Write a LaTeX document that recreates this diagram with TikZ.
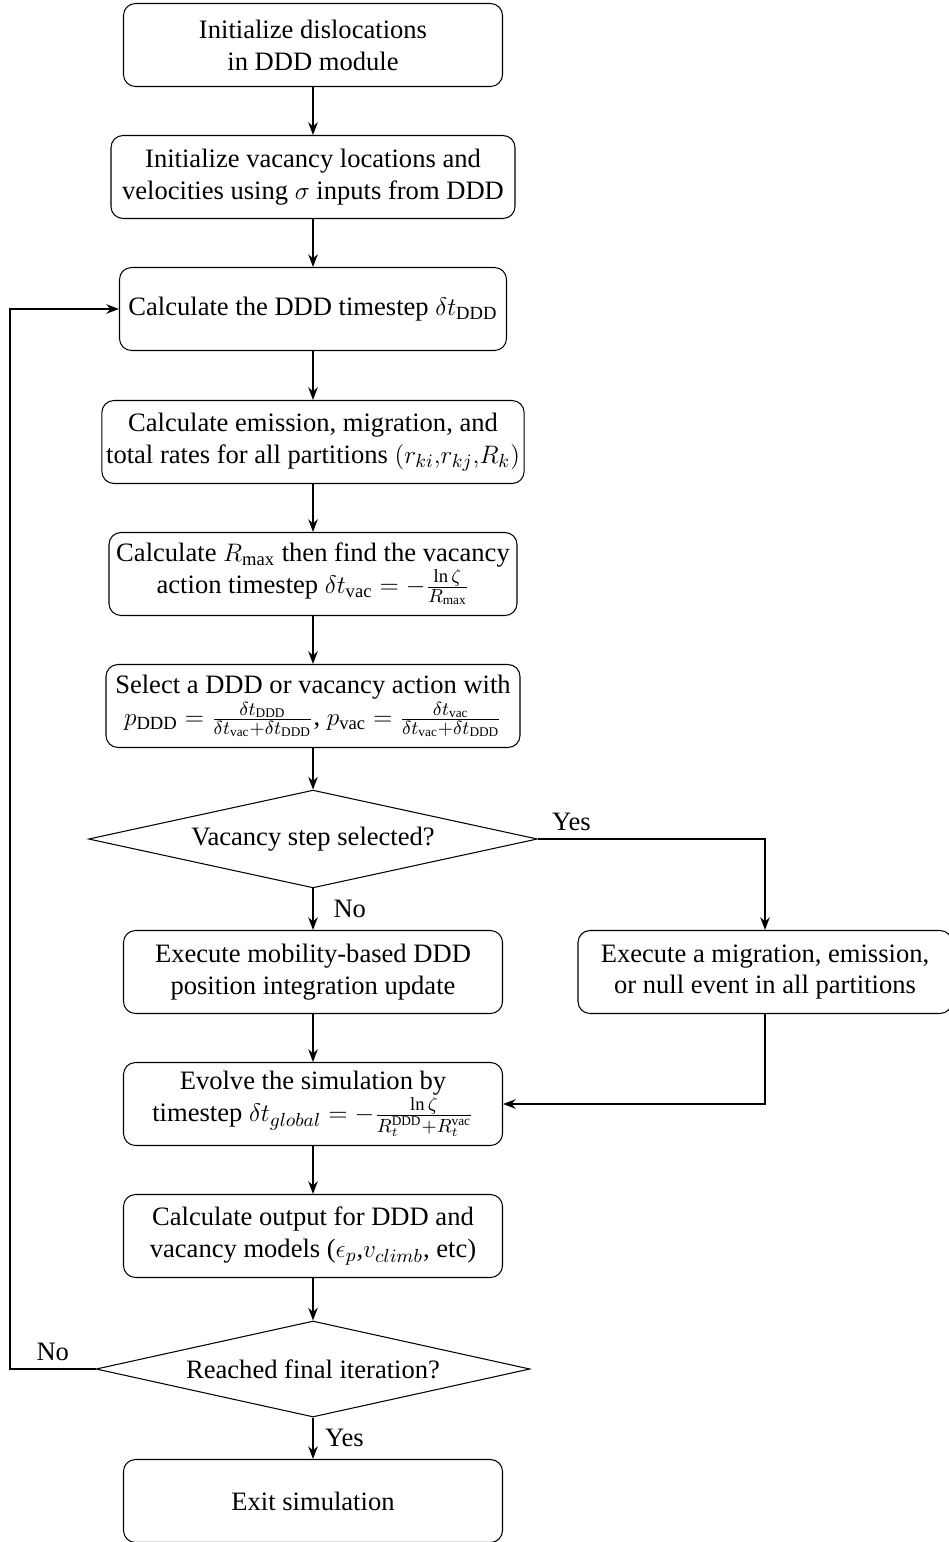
\documentclass[tikz,border=0pt]{standalone}
\usepackage{amsmath}
\usepackage{fontspec}
\setmainfont{Liberation Serif}
\usetikzlibrary{shapes.geometric, arrows.meta}

\tikzset{
    stepbox/.style={draw, rounded corners=0.2cm, line width=0.5pt, align=center,
        minimum height=1.383cm, inner xsep=2pt, font=\fontsize{12.6}{15.1}\selectfont},
    question/.style={draw, diamond, line width=0.5pt, aspect=4.6, inner sep=0pt,
        minimum width=7.48cm, minimum height=1.63cm, font=\fontsize{12.6}{15.1}\selectfont},
    flow/.style={-{Stealth[length=6pt, width=4.5pt]}, line width=0.8pt},
    lbl/.style={font=\fontsize{12.6}{15.1}\selectfont}
}

\begin{document}
\begin{tikzpicture}[x=1cm/60, y=-1cm/60]
    \useasboundingbox (0, 0) rectangle (948, 1542);

    % Setup
    \node[stepbox, minimum width=6.317cm] (init) at (313, 45) {Initialize dislocations\\in DDD module};
    \node[stepbox, minimum width=6.733cm] (vacinit) at (313, 177) {Initialize vacancy locations and\\velocities using $\sigma$ inputs from DDD};

    % Main loop
    \node[stepbox, minimum width=6.45cm] (ddtstep) at (313, 309) {Calculate the DDD timestep $\delta t_{\mathrm{DDD}}$};
    \node[stepbox, minimum width=6.967cm] (rates) at (313, 442) {Calculate emission, migration, and\\total rates for all partitions $(r_{ki}{,}r_{kj}{,}R_k)$};
    \node[stepbox, minimum width=6.8cm] (rmax) at (313, 574) {Calculate $R_{\max}$ then find the vacancy\\action timestep $\delta t_{\mathrm{vac}} = -\frac{\ln\zeta}{R_{\max}}$};
    \node[stepbox, minimum width=6.9cm] (select) at (313, 706) {Select a DDD or vacancy action with\\$p_{\mathrm{DDD}} = \frac{\delta t_{\mathrm{DDD}}}{\delta t_{\mathrm{vac}}+\delta t_{\mathrm{DDD}}}$, $p_{\mathrm{vac}} = \frac{\delta t_{\mathrm{vac}}}{\delta t_{\mathrm{vac}}+\delta t_{\mathrm{DDD}}}$};
    \node[question] (vacq) at (313, 839) {Vacancy step selected?};

    % Branches
    \node[stepbox, minimum width=6.317cm] (ddpos) at (313, 972) {Execute mobility-based DDD\\position integration update};
    \node[stepbox, minimum width=6.233cm] (vacevent) at (765, 972) {Execute a migration, emission,\\or null event in all partitions};

    % Update and output
    \node[stepbox, minimum width=6.317cm] (evolve) at (313, 1104) {Evolve the simulation by\\timestep $\delta t_{global} = -\frac{\ln\zeta}{R_t^{\mathrm{DDD}}+R_t^{\mathrm{vac}}}$};
    \node[stepbox, minimum width=6.317cm] (output) at (313, 1236) {Calculate output for DDD and\\vacancy models ($\epsilon_p$,$v_{climb}$, etc)};
    \node[question, minimum width=7.23cm, minimum height=1.6cm] (finalq) at (313, 1369) {Reached final iteration?};
    \node[stepbox, minimum width=6.317cm] (exit) at (313, 1501) {Exit simulation};

    \coordinate (loop) at (10, 1369);

    % Connectors
    \draw[flow] (init) -- (vacinit);
    \draw[flow] (vacinit) -- (ddtstep);
    \draw[flow] (ddtstep) -- (rates);
    \draw[flow] (rates) -- (rmax);
    \draw[flow] (rmax) -- (select);
    \draw[flow] (select) -- (vacq);
    \draw[flow] (vacq.south) -- node[lbl, right, xshift=6pt] {No} (ddpos.north);
    \draw[flow] (vacq.east) node[lbl, above right, xshift=3pt] {Yes} -| (vacevent.north);
    \draw[flow] (ddpos) -- (evolve);
    \draw[flow] (vacevent.south) |- (evolve.east);
    \draw[flow] (evolve) -- (output);
    \draw[flow] (output) -- (finalq);
    \draw[flow] (finalq.south) -- node[lbl, right, xshift=2pt] {Yes} (exit.north);
    \draw[flow] (finalq.west) -- node[lbl, above] {No} (loop) |- (ddtstep.west);
\end{tikzpicture}
\end{document}
